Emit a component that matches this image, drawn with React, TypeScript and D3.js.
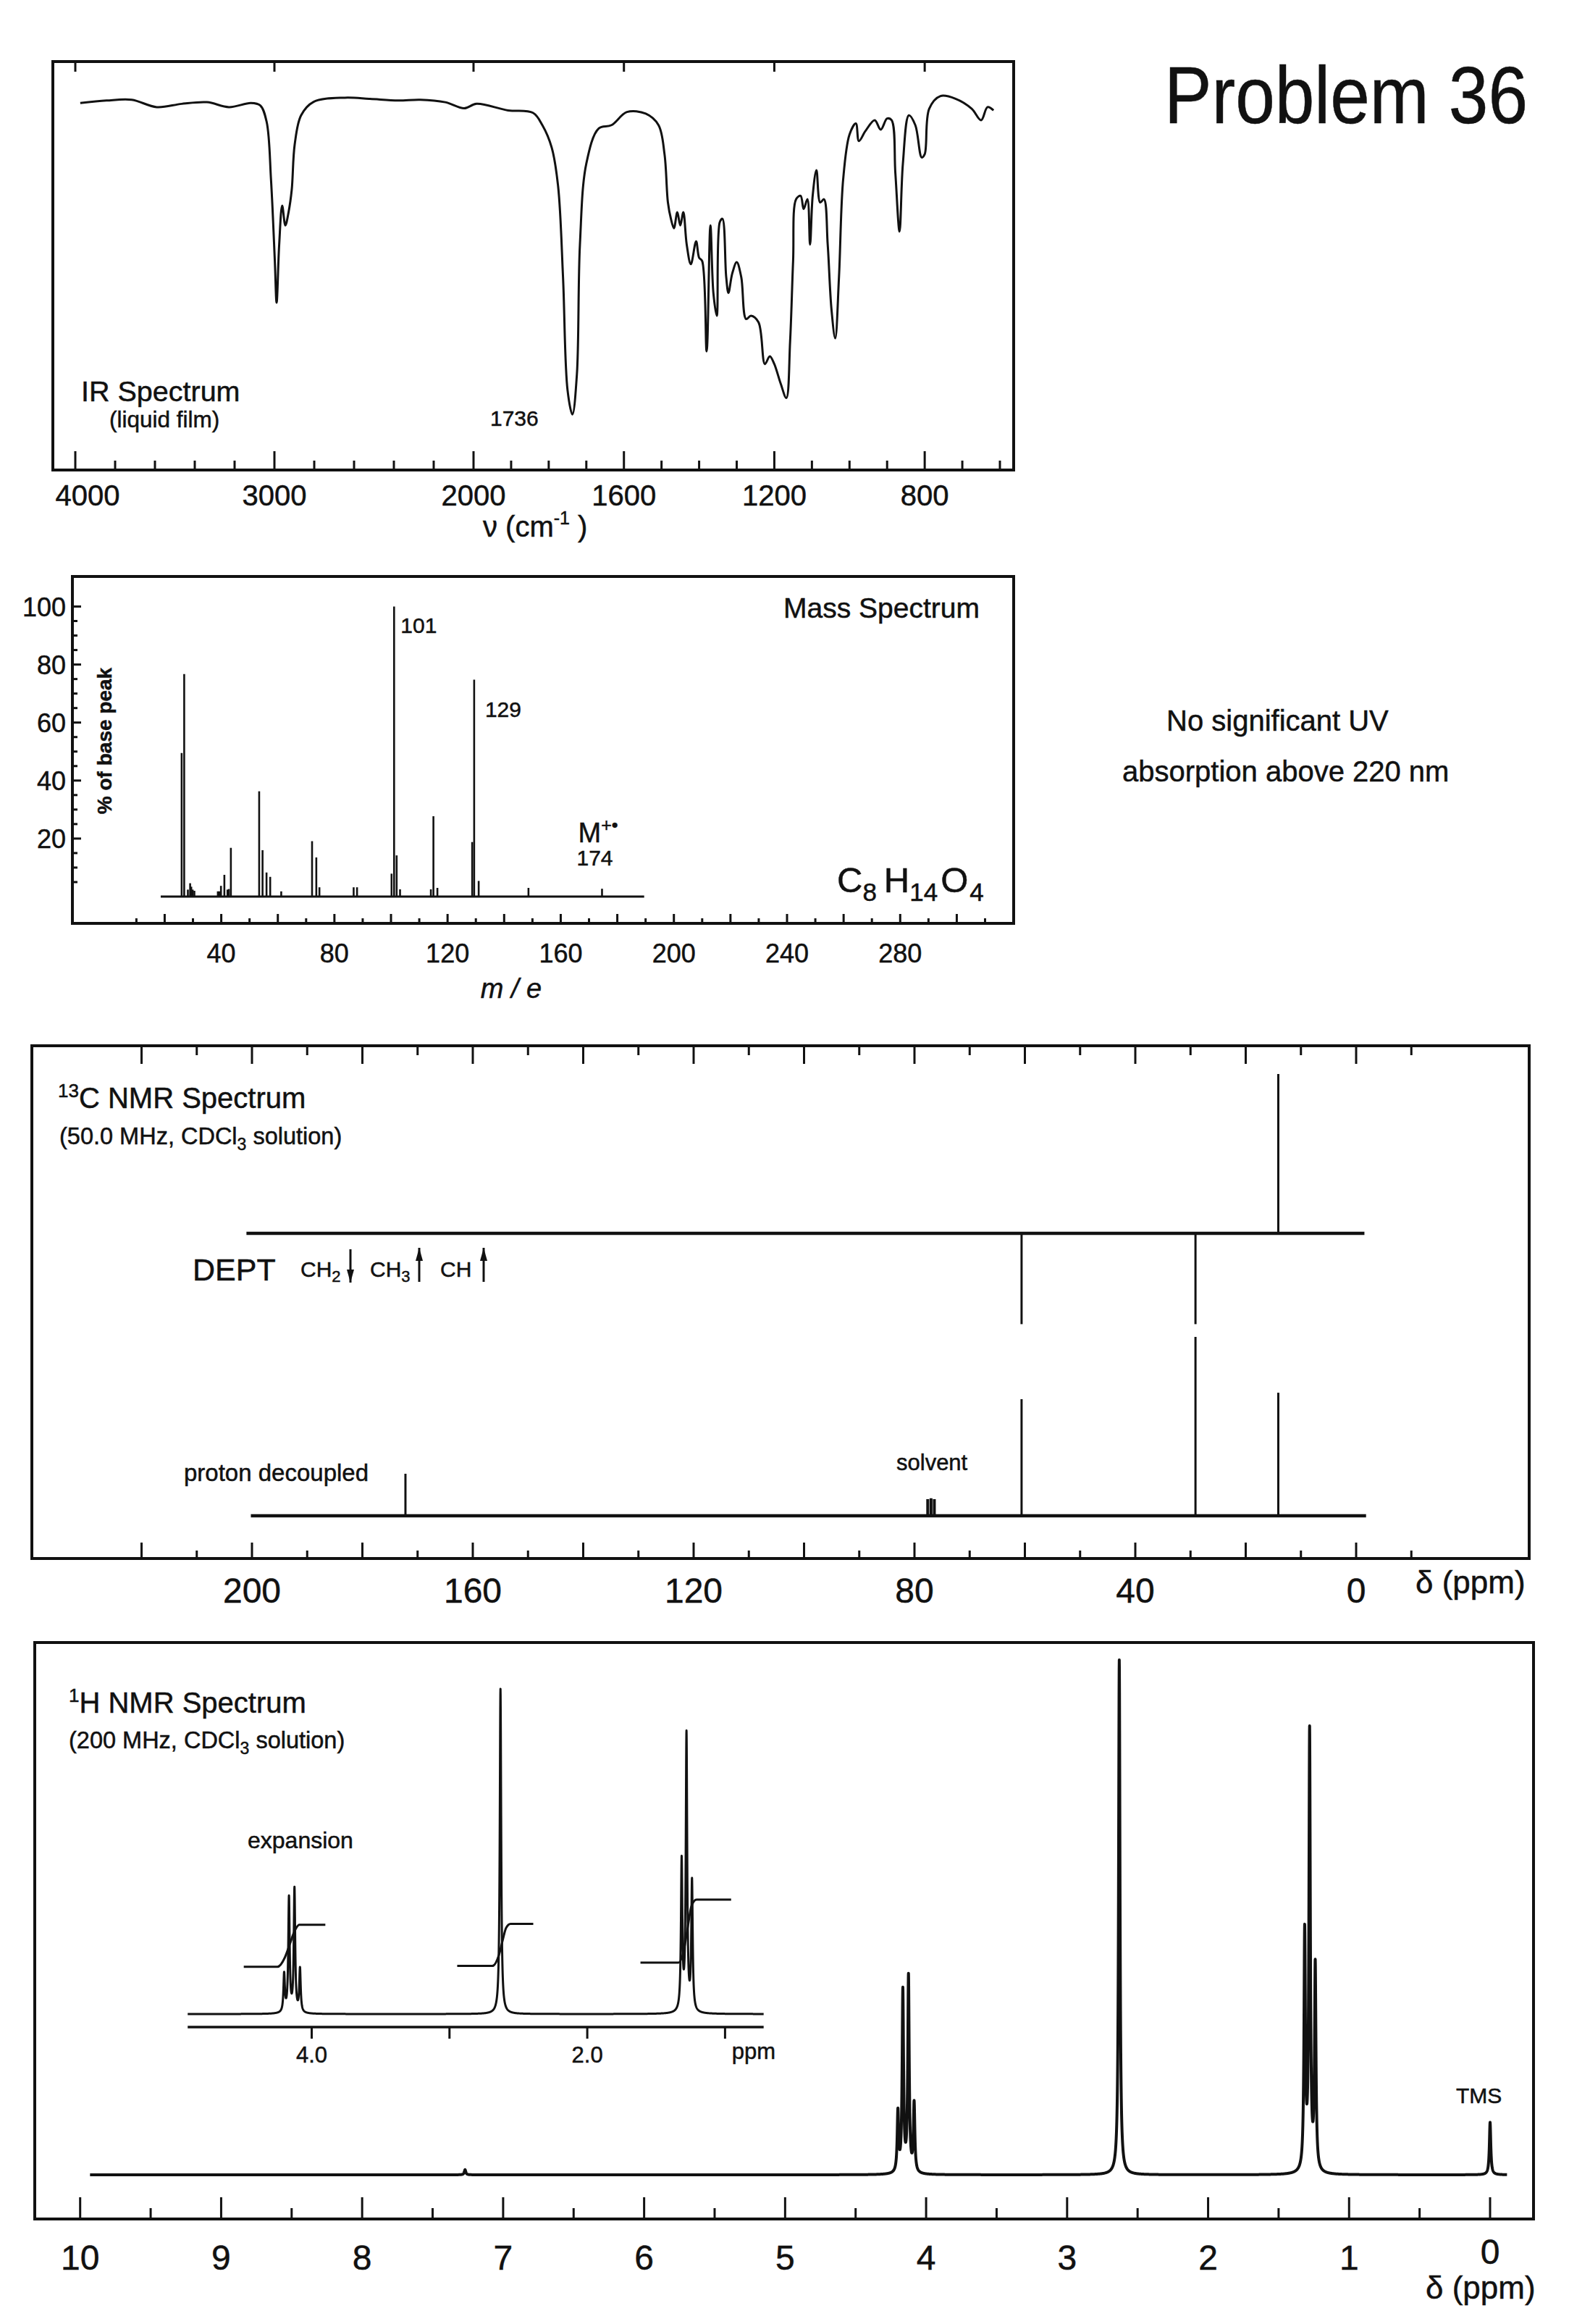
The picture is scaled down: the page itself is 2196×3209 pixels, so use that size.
import React from 'react';
import * as d3 from 'd3';

const FONT = '"Liberation Sans", Arial, Helvetica, sans-serif';
const INK = '#111';

// ---------------- IR spectrum (wavenumber cm-1, %T) ----------------
const IR_WAVENUMBERS = [3975, 3843, 3717, 3591, 3465, 3339, 3228, 3118, 3071, 3039, 3017, 2998, 2989, 2976, 2961, 2945, 2929, 2913, 2898, 2866, 2803, 2646, 2520, 2378, 2268, 2142, 2047, 1992, 1908, 1842, 1817, 1792, 1775, 1762, 1750, 1737, 1725, 1717, 1700, 1667, 1633, 1592, 1542, 1508, 1492, 1483, 1475, 1467, 1458, 1450, 1442, 1433, 1422, 1408, 1400, 1392, 1380, 1370, 1362, 1353, 1345, 1338, 1328, 1322, 1312, 1300, 1288, 1275, 1262, 1242, 1225, 1212, 1200, 1183, 1168, 1158, 1150, 1142, 1130, 1122, 1112, 1105, 1098, 1088, 1078, 1068, 1058, 1048, 1038, 1028, 1017, 1000, 983, 975, 958, 933, 917, 900, 888, 878, 867, 858, 842, 825, 808, 800, 788, 758, 717, 675, 650, 633, 617];
const IR_TRANSMITTANCE = [90.4, 91.0, 91.2, 89.4, 90.2, 90.6, 89.4, 90.4, 89.8, 85.8, 71.6, 51.9, 41.6, 55.8, 65.3, 60.5, 63.7, 69.2, 80.3, 87.4, 90.7, 91.7, 91.4, 91.0, 91.2, 90.6, 89.1, 90.2, 88.6, 88.0, 85.0, 79.5, 70.0, 47.9, 20.3, 14.3, 24.2, 55.8, 75.6, 84.2, 85.0, 88.2, 87.8, 85.0, 77.9, 66.1, 62.1, 59.8, 63.7, 60.5, 63.7, 55.8, 51.0, 56.6, 52.6, 51.8, 29.7, 60.5, 43.9, 38.4, 61.3, 62.1, 47.9, 44.0, 48.7, 51.5, 47.9, 37.6, 38.4, 36.8, 26.6, 28.5, 26.6, 21.8, 18.3, 32.1, 51.8, 66.9, 67.7, 64.5, 66.9, 55.8, 67.7, 74.0, 66.1, 66.9, 55.8, 40.0, 32.9, 47.9, 71.6, 82.7, 85.4, 81.1, 83.5, 86.2, 83.9, 86.6, 86.2, 73.2, 59.0, 75.6, 87.4, 85.0, 77.1, 77.9, 89.0, 92.1, 91.4, 89.0, 86.2, 89.4, 88.6];
const IR_LABELS = [4000, 3000, 2000, 1600, 1200, 800];
const IR_MINOR = [3800, 3600, 3400, 3200, 2800, 2600, 2400, 2200, 1900, 1800, 1700, 1500, 1400, 1300, 1100, 1000, 900, 700, 600];

// ---------------- Mass spectrum (m/e, % of base peak) ----------------
const MS_MZ = [26.0, 26.9, 28.2, 29.0, 29.4, 29.9, 30.5, 38.8, 39.3, 39.9, 41.1, 42.2, 42.7, 43.4, 53.4, 54.6, 56.0, 57.3, 61.2, 72.1, 73.6, 74.7, 86.8, 88.0, 100.2, 101.1, 102.0, 103.2, 114.1, 115.0, 116.4, 128.7, 129.4, 131.0, 148.6, 174.6];
const MS_ABUNDANCE = [49.5, 76.7, 2.4, 4.6, 3.4, 2.4, 2.0, 1.8, 1.8, 3.7, 7.5, 2.4, 2.6, 16.8, 36.3, 16.0, 8.3, 6.8, 1.8, 19.1, 13.5, 3.2, 3.2, 3.2, 7.9, 100, 14.2, 2.5, 2.5, 27.7, 3.0, 18.8, 74.8, 5.4, 3.0, 2.7];
const MS_X_LABELS = [40, 80, 120, 160, 200, 240, 280];
const MS_Y_LABELS = [20, 40, 60, 80, 100];
const MS_BASELINE_RANGE = [18.6, 189.5];

// ---------------- 13C NMR ----------------
const C13_SHIFTS = [172.2, 60.6, 29.1, 14.1];
const C13_HEIGHTS = [23.5, 65.2, 100, 68.8];
const C13_SOLVENT_SHIFTS = [77.6, 77.0, 76.4];
const C13_SOLVENT_HEIGHTS = [9.3, 9.8, 9.3];
const DEPT_SHIFTS = [60.6, 29.1, 14.1];
const DEPT_HEIGHTS = [-57, -57, 100];
const C13_LABELS = [200, 160, 120, 80, 40, 0];

// ---------------- 1H NMR ----------------
const H1_SHIFTS = [7.27, 4.2, 4.165, 4.125, 4.085, 2.63, 1.315, 1.28, 1.24, 0.0];
const H1_HEIGHTS = [1.0, 11.7, 35.2, 38.0, 13.4, 100, 46, 85, 39.7, 10.2];
const H1_LABELS = [10, 9, 8, 7, 6, 5, 4, 3, 2, 1, 0];
const INSET_TICKS = [4, 3, 2, 1];
const INSET_LABELS = [4, 2];
const INT_Q_PPM = [4.493, 4.248, 4.195, 4.16, 4.125, 4.09, 3.901];
const INT_Q_LEVEL = [4.5, 4.5, 5.38, 6.62, 7.88, 8.5, 8.5];
const INT_S_PPM = [2.944, 2.689, 2.642, 2.615, 2.589, 2.557, 2.392];
const INT_S_LEVEL = [4.58, 4.58, 5.59, 6.97, 8.21, 8.59, 8.59];
const INT_T_PPM = [1.614, 1.338, 1.296, 1.27, 1.244, 1.207, 0.956];
const INT_T_LEVEL = [4.9, 4.9, 6.28, 8.34, 10.28, 10.9, 10.9];

type P = [number, number];

function lorentzTrace(shifts: number[], heights: number[], from: number, to: number, hw: number): P[] {
  const xs: number[] = [];
  for (let p = from; p >= to; p -= 0.004) xs.push(p);
  xs.push(to);
  shifts.forEach((s) => {
    if (s > from || s < to) return;
    xs.push(s);
    for (let d = -0.1; d <= 0.1; d += 0.0008) {
      const v = s + d;
      if (v <= from && v >= to) xs.push(v);
    }
  });
  xs.sort((a, b) => b - a);
  return xs.map((p) => [
    p,
    d3.sum(shifts, (s, i) => {
      if (s > from + 0.2 || s < to - 0.2) return 0;
      return (heights[i] * hw * hw) / (hw * hw + (p - s) * (p - s));
    }),
  ]);
}

function Arrow({ x, y1, y2, up }: { x: number; y1: number; y2: number; up: boolean }) {
  const tip = up ? y1 : y2;
  const dir = up ? 1 : -1;
  return (
    <g>
      <line x1={x} x2={x} y1={y1} y2={y2} stroke={INK} strokeWidth={3} />
      <path d={`M${x},${tip} L${x - 5},${tip + dir * 18} L${x + 5},${tip + dir * 18} Z`} fill={INK} />
    </g>
  );
}

export default function App() {
  // ---------- IR ----------
  const irBox = { l: 73, t: 85, r: 1400, b: 649 };
  const irX = d3.scaleLinear().domain([4000, 2000, 600]).range([104, 654, 1381]);
  const irY = d3.scaleLinear().domain([0, 100]).range([653, 88]);
  const irPts: P[] = IR_WAVENUMBERS.map((w, i) => [w, IR_TRANSMITTANCE[i]]);
  const irPath = d3.line<P>().x((d) => irX(d[0])).y((d) => irY(d[1])).curve(d3.curveCatmullRom.alpha(0.5))(irPts) || '';

  // ---------- MS ----------
  const msBox = { l: 100, t: 796, r: 1400, b: 1275 };
  const msX = d3.scaleLinear().domain([0, 310]).range([149.3, 1360.5]);
  const msY = d3.scaleLinear().domain([0, 100]).range([1238, 837.5]);

  // ---------- 13C ----------
  const cBox = { l: 44, t: 1444, r: 2112, b: 2152 };
  const cX = d3.scaleLinear().domain([0, 200]).range([1873, 348]);
  const deptY = d3.scaleLinear().domain([0, 100]).range([1703, 1483]);
  const pdY = d3.scaleLinear().domain([0, 100]).range([2093, 1846]);
  const cTicks = d3.range(-10, 221, 10);

  // ---------- 1H ----------
  const hBox = { l: 48, t: 2268, r: 2118, b: 3064 };
  const hX = d3.scaleLinear().domain([0, 10]).range([2058, 110.7]);
  const hY = d3.scaleLinear().domain([0, 100]).range([3003, 2292]);
  const hTrace = lorentzTrace(H1_SHIFTS, H1_HEIGHTS, 9.93, -0.12, 0.006);
  const hPath = d3.line<P>().x((d) => hX(d[0])).y((d) => hY(d[1]))(hTrace) || '';
  const inX = d3.scaleLinear().domain([4, 2]).range([430.5, 811.1]);
  const inY = d3.scaleLinear().domain([0, 100]).range([2781, 2332]);
  const inDomain = [4.9, 0.72];
  const inTrace = lorentzTrace(H1_SHIFTS, H1_HEIGHTS, inDomain[0], inDomain[1], 0.006);
  const inPath = d3.line<P>().x((d) => inX(d[0])).y((d) => inY(d[1]))(inTrace) || '';
  const intY = d3.scaleLinear().domain([0, 10]).range([2781, 2636]);
  const intLine = d3.line<P>().x((d) => inX(d[0])).y((d) => intY(d[1])).curve(d3.curveMonotoneX);
  const integrals = [
    INT_Q_PPM.map((p, i) => [p, INT_Q_LEVEL[i]] as P),
    INT_S_PPM.map((p, i) => [p, INT_S_LEVEL[i]] as P),
    INT_T_PPM.map((p, i) => [p, INT_T_LEVEL[i]] as P),
  ];

  const txt = { fontFamily: FONT, fill: INK, stroke: INK, strokeWidth: 0.5 } as const;

  return (
    <div style={{ position: 'absolute', left: 0, top: 0, width: 2196, height: 3209, overflow: 'hidden', background: '#fff' }}>
      <style>{'body{margin:0;overflow:hidden;}'}</style>
      <svg width={2196} height={3209} viewBox="0 0 2196 3209" xmlns="http://www.w3.org/2000/svg">
        <rect x={0} y={0} width={2196} height={3209} fill="#fff" />

        {/* Title */}
        <text x={1608} y={170} fontSize={112} textLength={502} lengthAdjust="spacingAndGlyphs" {...txt}>Problem 36</text>

        {/* ================= IR ================= */}
        <g>
          <rect x={irBox.l} y={irBox.t} width={irBox.r - irBox.l} height={irBox.b - irBox.t} fill="none" stroke={INK} strokeWidth={4} />
          {IR_LABELS.map((v) => (
            <g key={'irM' + v}>
              <line x1={irX(v)} x2={irX(v)} y1={irBox.b} y2={irBox.b - 26} stroke={INK} strokeWidth={3} />
              <line x1={irX(v)} x2={irX(v)} y1={irBox.t} y2={irBox.t + 14} stroke={INK} strokeWidth={3} />
            </g>
          ))}
          {IR_MINOR.map((v) => (
            <line key={'irm' + v} x1={irX(v)} x2={irX(v)} y1={irBox.b} y2={irBox.b - 13} stroke={INK} strokeWidth={3} />
          ))}
          {IR_LABELS.map((v) => (
            <text key={'irL' + v} x={Math.max(irX(v), irBox.l + 48)} y={698} fontSize={40} textAnchor="middle" {...txt}>{v}</text>
          ))}
          <text x={667} y={741} fontSize={40} {...txt}>
            ν  (cm<tspan dy={-17} fontSize={25}>-1</tspan><tspan dy={17}> )</tspan>
          </text>
          <path d={irPath} fill="none" stroke={INK} strokeWidth={3} strokeLinejoin="round" />
          <text x={112} y={554} fontSize={39.5} {...txt}>IR Spectrum</text>
          <text x={151} y={590} fontSize={31.5} {...txt}>(liquid film)</text>
          <text x={677} y={588} fontSize={30} {...txt}>1736</text>
        </g>

        {/* ================= MS ================= */}
        <g>
          <rect x={msBox.l} y={msBox.t} width={msBox.r - msBox.l} height={msBox.b - msBox.t} fill="none" stroke={INK} strokeWidth={4} />
          {d3.range(10, 311, 10).map((v) => (
            <line key={'msx' + v} x1={msX(v)} x2={msX(v)} y1={msBox.b} y2={msBox.b - (v % 20 === 0 ? 13 : 7)} stroke={INK} strokeWidth={3} />
          ))}
          {d3.range(5, 101, 5).map((v) => (
            <line key={'msy' + v} x1={msBox.l} x2={msBox.l + (v % 20 === 0 ? 12 : 7)} y1={msY(v)} y2={msY(v)} stroke={INK} strokeWidth={3} />
          ))}
          {MS_Y_LABELS.map((v) => (
            <text key={'msyl' + v} x={91} y={msY(v) + 13} fontSize={36} textAnchor="end" {...txt}>{v}</text>
          ))}
          {MS_X_LABELS.map((v) => (
            <text key={'msxl' + v} x={msX(v)} y={1329} fontSize={36} textAnchor="middle" {...txt}>{v}</text>
          ))}
          <text x={706} y={1378} fontSize={38} fontStyle="italic" textAnchor="middle" {...txt}>m / e</text>
          <text transform="translate(154,1023) rotate(-90)" fontSize={28} fontWeight="bold" textAnchor="middle" {...txt}>% of base peak</text>
          <line x1={msX(MS_BASELINE_RANGE[0])} x2={msX(MS_BASELINE_RANGE[1])} y1={msY(0)} y2={msY(0)} stroke={INK} strokeWidth={3} />
          {MS_MZ.map((m, i) => (
            <line key={'pk' + i} x1={msX(m)} x2={msX(m)} y1={msY(0)} y2={msY(MS_ABUNDANCE[i])} stroke={INK} strokeWidth={2.6} />
          ))}
          <text x={1082} y={853} fontSize={39} {...txt}>Mass Spectrum</text>
          <text x={msX(101.1) + 9} y={874} fontSize={30} {...txt}>101</text>
          <text x={msX(129.4) + 15} y={990} fontSize={30} {...txt}>129</text>
          <text x={msX(174.6) - 33} y={1163} fontSize={38} {...txt}>
            M<tspan dy={-15} fontSize={25}>+•</tspan>
          </text>
          <text x={msX(174.6) - 35} y={1195} fontSize={30} {...txt}>174</text>
          <text x={1156} y={1232} fontSize={49} {...txt}>
            C<tspan dy={12} fontSize={35}>8</tspan>
            <tspan dy={-12} dx={10}>H</tspan>
            <tspan dy={12} fontSize={35}>14</tspan>
            <tspan dy={-12} dx={4}>O</tspan>
            <tspan dy={12} fontSize={35} dx={2}>4</tspan>
          </text>
        </g>

        {/* UV note */}
        <text x={1611} y={1009} fontSize={40} {...txt}>No significant UV</text>
        <text x={1550} y={1079} fontSize={40} {...txt}>absorption above 220 nm</text>

        {/* ================= 13C ================= */}
        <g>
          <rect x={cBox.l} y={cBox.t} width={cBox.r - cBox.l} height={cBox.b - cBox.t} fill="none" stroke={INK} strokeWidth={4} />
          {cTicks.map((v) => (
            <g key={'ct' + v}>
              <line x1={cX(v)} x2={cX(v)} y1={cBox.t} y2={cBox.t + (v % 20 === 0 ? 25 : 13)} stroke={INK} strokeWidth={3} />
              <line x1={cX(v)} x2={cX(v)} y1={cBox.b} y2={cBox.b - (v % 20 === 0 ? 22 : 11)} stroke={INK} strokeWidth={3} />
            </g>
          ))}
          {C13_LABELS.map((v) => (
            <text key={'cl' + v} x={cX(v)} y={2213} fontSize={48} textAnchor="middle" {...txt}>{v}</text>
          ))}
          <text x={1955} y={2200} fontSize={44} {...txt}>δ (ppm)</text>

          {/* DEPT */}
          <line x1={cX(201)} x2={cX(-1.5)} y1={deptY(0)} y2={deptY(0)} stroke={INK} strokeWidth={4.5} />
          {DEPT_SHIFTS.map((s, i) => (
            <line key={'dp' + i} x1={cX(s)} x2={cX(s)} y1={deptY(0)} y2={deptY(DEPT_HEIGHTS[i])} stroke={INK} strokeWidth={3} />
          ))}
          {/* proton decoupled */}
          <line x1={cX(200.2)} x2={cX(-1.8)} y1={pdY(0)} y2={pdY(0)} stroke={INK} strokeWidth={4.5} />
          {C13_SHIFTS.map((s, i) => (
            <line key={'pd' + i} x1={cX(s)} x2={cX(s)} y1={pdY(0)} y2={pdY(C13_HEIGHTS[i])} stroke={INK} strokeWidth={3} />
          ))}
          {C13_SOLVENT_SHIFTS.map((s, i) => (
            <line key={'sv' + i} x1={cX(s)} x2={cX(s)} y1={pdY(0)} y2={pdY(C13_SOLVENT_HEIGHTS[i])} stroke={INK} strokeWidth={4} />
          ))}

          <text x={80} y={1530} fontSize={40} {...txt}>
            <tspan fontSize={26} dy={-15}>13</tspan>
            <tspan dy={15}>C NMR Spectrum</tspan>
          </text>
          <text x={82} y={1580} fontSize={32.5} {...txt}>
            (50.0 MHz, CDCl<tspan dy={8} fontSize={23}>3</tspan>
            <tspan dy={-8}> solution)</tspan>
          </text>
          <text x={266} y={1768} fontSize={43} {...txt}>DEPT</text>
          <text x={415} y={1763} fontSize={30} {...txt}>
            CH<tspan dy={7} fontSize={22}>2</tspan>
          </text>
          <Arrow x={484} y1={1725} y2={1771} up={false} />
          <text x={511} y={1763} fontSize={30} {...txt}>
            CH<tspan dy={7} fontSize={22}>3</tspan>
          </text>
          <Arrow x={579} y1={1723} y2={1770} up={true} />
          <text x={608} y={1763} fontSize={30} {...txt}>CH</text>
          <Arrow x={668} y1={1723} y2={1770} up={true} />
          <text x={254} y={2045} fontSize={33} {...txt}>proton decoupled</text>
          <text x={1238} y={2030} fontSize={31} {...txt}>solvent</text>
        </g>

        {/* ================= 1H ================= */}
        <g>
          <rect x={hBox.l} y={hBox.t} width={hBox.r - hBox.l} height={hBox.b - hBox.t} fill="none" stroke={INK} strokeWidth={4} />
          {d3.range(0, 10.01, 0.5).map((v) => (
            <line key={'ht' + v} x1={hX(v)} x2={hX(v)} y1={hBox.b} y2={hBox.b - (Number.isInteger(v) ? 30 : 15)} stroke={INK} strokeWidth={3} />
          ))}
          {H1_LABELS.map((v) => (
            <text key={'hl' + v} x={hX(v)} y={v === 0 ? 3126 : 3134} fontSize={48} textAnchor="middle" {...txt}>{v}</text>
          ))}
          <text x={1969} y={3174} fontSize={44} {...txt}>δ (ppm)</text>
          <path d={hPath} fill="none" stroke={INK} strokeWidth={4} strokeLinejoin="round" />
          <text x={2011} y={2904} fontSize={30} {...txt}>TMS</text>

          {/* inset */}
          <line x1={inX(inDomain[0])} x2={inX(inDomain[1])} y1={2799} y2={2799} stroke={INK} strokeWidth={3.5} />
          {INSET_TICKS.map((v) => (
            <line key={'it' + v} x1={inX(v)} x2={inX(v)} y1={2799} y2={2815} stroke={INK} strokeWidth={3} />
          ))}
          {INSET_LABELS.map((v) => (
            <text key={'il' + v} x={inX(v)} y={2848} fontSize={31} textAnchor="middle" {...txt}>{v.toFixed(1)}</text>
          ))}
          <text x={1041} y={2843} fontSize={31} textAnchor="middle" {...txt}>ppm</text>
          <path d={inPath} fill="none" stroke={INK} strokeWidth={3} strokeLinejoin="round" />
          {integrals.map((pts, i) => (
            <path key={'int' + i} d={intLine(pts) || ''} fill="none" stroke={INK} strokeWidth={3} />
          ))}
          <text x={342} y={2552} fontSize={32} {...txt}>expansion</text>

          <text x={95} y={2365} fontSize={40} {...txt}>
            <tspan fontSize={26} dy={-15}>1</tspan>
            <tspan dy={15}>H NMR Spectrum</tspan>
          </text>
          <text x={95} y={2414} fontSize={32.5} {...txt}>
            (200 MHz, CDCl<tspan dy={8} fontSize={23}>3</tspan>
            <tspan dy={-8}> solution)</tspan>
          </text>
        </g>
      </svg>
    </div>
  );
}
